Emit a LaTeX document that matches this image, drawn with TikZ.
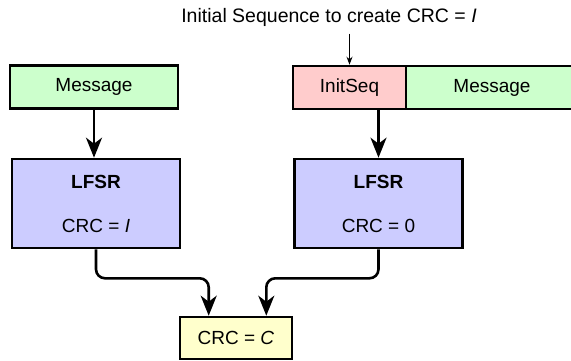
\documentclass[tikz,border=0pt]{standalone}
\usepackage{fontspec}
\setmainfont{Liberation Sans}
\usepackage{xcolor}
\usetikzlibrary{arrows.meta,calc,positioning}
\definecolor{msggreen}{RGB}{204,255,204}
\definecolor{seqpink}{RGB}{255,204,204}
\definecolor{lfsrblue}{RGB}{204,204,255}
\definecolor{crcyellow}{RGB}{255,255,204}
\tikzset{
  block/.style={draw=black,line width=2.6pt,align=center,inner sep=0pt,
    font=\fontsize{19}{22}\selectfont},
  msgbox/.style={block,fill=msggreen,minimum width=168pt,minimum height=43pt},
  seqbox/.style={block,fill=seqpink,minimum width=113pt,minimum height=43pt},
  lfsrbox/.style={block,fill=lfsrblue,minimum width=168pt,minimum height=89pt},
  resultbox/.style={block,fill=crcyellow,minimum width=112pt,minimum height=42pt},
  flow/.style={-{Stealth[length=20pt,width=16pt,inset=6pt]},line width=2.6pt},
  pointer/.style={-{Stealth[length=8pt,width=6pt]},line width=1pt},
  caption/.style={font=\fontsize{19.5}{22}\selectfont}
}

\begin{document}
\begin{tikzpicture}[x=1pt,y=-1pt]
  \useasboundingbox (0,0) rectangle (571,360);
  \node[msgbox] (msgL) at (94,87) {Message};
  \node[lfsrbox] (lfsrL) at (96,203.5) {\textbf{LFSR}\\[22pt]CRC = \textit{I}};
  \node[seqbox] (init) at (349.5,87.5) {InitSeq};
  \node[msgbox,minimum width=172pt,right=-2.6pt of init] (msgR) {Message};
  \node[lfsrbox] (lfsrR) at (378.5,203.5) {\textbf{LFSR}\\[22pt]CRC = 0};
  \node[resultbox] (crc) at (236,338) {CRC = \textit{C}};
  \node[caption] (note) at (329,17) {Initial Sequence to create CRC = \textit{I}};
  \draw[pointer,shorten <=4pt] (note.south -| init.north) -- (init.north);
  \draw[flow] (msgL.south) -- (msgL.south |- lfsrL.north);
  \draw[flow] (init.south -| lfsrR.north) -- (lfsrR.north);
  \draw[flow,rounded corners=9pt] (lfsrL.south) -- ++(0,29) -| ([xshift=30pt]crc.north west);
  \draw[flow,rounded corners=9pt] (lfsrR.south) -- ++(0,29) -| ([xshift=-27pt]crc.north east);
\end{tikzpicture}
\end{document}
